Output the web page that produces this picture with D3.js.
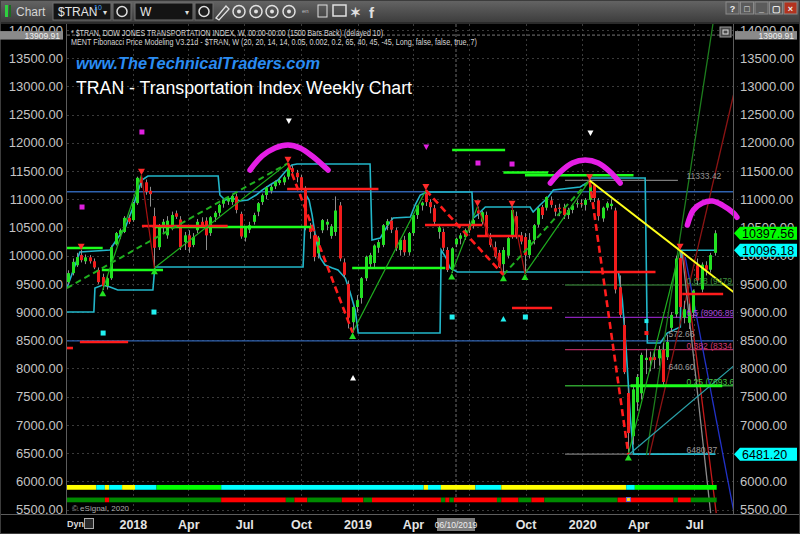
<!DOCTYPE html>
<html>
<head>
<meta charset="utf-8">
<script src="https://cdn.jsdelivr.net/npm/d3@7/dist/d3.min.js"></script>
<style>
html,body{margin:0;padding:0;background:#000;}
svg{display:block;font-family:"Liberation Sans",Arial,sans-serif;}
</style>
</head>
<body>
<svg id="chart" width="800" height="534"></svg>
<script>
// ---- Weekly $TRAN candles, first bar week of 2017-09-18 : [open, high, low, close]
const firstWeek = "2017-09-18";
const ohlc = [
[9530,9740,9480,9690],[9690,9950,9650,9890],[9830,10050,9800,9975],[10010,10100,9880,9920],
[9900,10020,9850,9970],[9970,10010,9860,9900],[9900,9950,9760,9790],[9745,9790,9500,9530],
[9620,9680,9390,9460],[9460,9650,9400,9600],[9600,10180,9570,10150],[10200,10420,10180,10400],
[10380,10480,10300,10450],[10420,10700,10400,10670],[10670,10720,10560,10600],[10630,10950,10600,10930],
[10930,11400,10900,11380],[11380,11430,11200,11290],[11300,11350,11080,11130],[11150,11220,10870,11090],
[10700,10850,9780,10140],[10150,10560,10100,10510],[10500,10650,10400,10600],[10360,10700,10300,10620],
[10490,10780,10450,10720],[10750,10800,10650,10690],[10640,10700,10100,10150],[10240,10420,10100,10360],
[10360,10450,10050,10150],[10190,10400,10150,10330],[10450,10650,10400,10600],[10600,10680,10500,10540],
[10620,10680,10100,10360],[10400,10700,10350,10680],[10680,10790,10600,10760],[10760,10920,10700,10900],
[10920,11000,10850,10990],[10960,11050,10900,11020],[10950,11080,10900,11060],[11050,11100,10750,10810],
[10740,10780,10300,10340],[10320,10520,10250,10490],[10460,10600,10400,10540],[10600,10760,10550,10720],
[10780,10950,10700,10930],[10950,11100,10900,11070],[11075,11230,11000,11210],[11150,11260,11100,11220],
[11230,11330,11180,11310],[11290,11370,11250,11340],[11300,11420,11250,11390],[11400,11640,11350,11560],
[11550,11600,11420,11480],[11470,11520,11300,11390],[11390,11430,11150,11200],[11200,11230,10450,10500],
[10500,10580,10300,10420],[10360,10420,9900,9975],[10040,10350,9950,10320],[10450,10650,10400,10630],
[10550,10650,10450,10600],[10350,10560,10300,10520],[10420,11050,10350,10800],[10890,10950,9900,9950],
[9880,9950,9600,9660],[9500,9560,8710,8900],[8820,9100,8636,9090],[9090,9300,9000,9210],
[9250,9620,9150,9600],[9600,10000,9550,9980],[9850,10050,9800,10010],[9870,10200,9800,10180],
[10140,10280,10050,10240],[10190,10560,10150,10540],[10540,10650,10450,10610],[10620,10680,10400,10460],
[10450,10500,10080,10130],[10100,10300,10000,10280],[10280,10350,10000,10060],[10060,10420,10000,10400],
[10400,10740,10350,10720],[10720,10900,10650,10890],[10890,10960,10800,10940],[11100,11160,10880,10950],
[10950,11000,10750,10860],[10840,10900,10550,10600],[10420,10550,10300,10500],[10420,10480,10080,10140],
[10100,10150,9710,9745],[9745,10150,9690,10130],[10200,10320,10150,10300],[10300,10400,10200,10360],
[10330,10480,10280,10450],[10540,10620,10400,10450],[10540,10650,10480,10630],[10800,10870,10650,10750],
[10600,10790,10550,10770],[10720,10780,10330,10360],[10300,10400,10150,10190],[10150,10250,9950,9980],
[10050,10100,9780,9800],[9850,10150,9660,10100],[10000,10330,9950,10310],[10360,10860,10300,10810],
[10700,10780,10300,10360],[10360,10420,10200,10250],[10330,10400,9680,10010],[10010,10400,9950,10280],
[10280,10560,10200,10540],[10550,10860,10500,10840],[10860,10900,10650,10720],[10850,11050,10800,11040],
[10980,11050,10850,10900],[10840,10900,10700,10780],[10850,10920,10700,10830],[10860,10920,10650,10720],
[10720,10850,10650,10810],[10810,10920,10750,10890],[10920,10980,10850,10930],[10930,11000,10850,10920],
[10900,11020,10800,10990],[10990,11333.42,10950,11250],[11250,11280,10950,11020],[10980,11020,10620,10700],
[10660,10870,10600,10850],[10850,10960,10800,10930],[10880,11000,10820,10920],[10800,10850,9330,9400],
[9440,9650,8900,8950],[8770,8900,7900,7935],[7565,7650,6480.37,6855],[6800,7700,6650,7630],
[7400,7900,7250,7850],[7560,8280,7450,8240],[8150,8350,7900,8190],[8200,8300,7950,8140],
[8200,8350,8000,8150],[8180,8400,8050,8330],[8330,8450,7700,7760],[8200,8600,8150,8470],
[8720,9000,8650,8950],[8960,10000,8900,9950],[9960,10100,9050,9090],[8900,9200,8800,9050],
[8810,9150,8700,8990],[8990,9400,8900,9380],[9830,9950,9480,9560],[9400,9880,9350,9840],
[9830,9900,9650,9750],[9750,10050,9700,10010],[10050,10450,10000,10397.56]
];

// Price scale ticks and calendar labels (the July 2019 label sits under the cursor date box)
const priceTicks = [14000,13500,13000,12500,12000,11500,11000,10500,10000,9500,9000,8500,8000,7500,7000,6500,6000,5500];
const timeTicks = [
  ["2018-01-01","2018"],["2018-04-01","Apr"],["2018-07-01","Jul"],["2018-10-01","Oct"],
  ["2019-01-01","2019"],["2019-04-01","Apr"],["2019-07-01",""],["2019-10-01","Oct"],
  ["2020-01-01","2020"],["2020-04-01","Apr"],["2020-07-01","Jul"]
];
const cursorDate = "2019-06-10";
const cursorPrice = 13909.91;

// Channel lines (week index, price)
const upperBand = [[-0.3,9426],[2.7,10064],[9.7,10099],[10.4,10188],[11.5,10312],[13.2,10489],[14.8,10809],[15.9,11075],[17.1,11340],[18.5,11411],[34.8,11411],[35.2,11075],[36.4,10986],[38,11021],[39.9,10968],[41.7,10986],[43.6,11075],[45,11163],[46.8,11252],[48.7,11340],[50.3,11482],[51.9,11607],[53.1,11624],[70.05,11624],[70.5,10277],[72.4,10312],[74.2,10543],[75.4,10667],[79.4,10684],[80.5,10897],[81.7,11075],[83.3,11128],[93.7,11128],[94,10667],[94.9,10720],[96.8,10862],[107.2,10862],[107.9,10773],[109.5,10897],[111.2,11021],[112.6,11163],[118.8,11216],[120.7,11305],[121.2,11376],[133.9,11376],[134.4,8451],[137.4,8451],[139,8628],[142.06,8734],[142.3,10096.18],[150.2,10096.18]];
const lowerBand = [[-0.3,9000],[5.95,9000],[6.2,9426],[8,9479],[9.7,9443],[11.5,9390],[19.65,9390],[20.1,9798],[54.5,9798],[55.2,11075],[55.9,10986],[56.6,10720],[57.5,10277],[58.5,9958],[59.6,9833],[61.3,9780],[62.6,9745],[64.3,9603],[65.4,9355],[66.6,9036],[67.3,8628],[86.3,8628],[86.55,10099],[87.7,9958],[88.6,9780],[90.3,9709],[127.7,9709],[128.6,9213],[129.5,8326],[130.5,7085],[131.2,6481.2],[150.2,6481.2]];

// Long-running horizontal reference levels
const baseLevels = [11133, 8490];

// Fibonacci retracement of the 2020 swing (high 11333.42, low 6480.37)
const fibRatios = ["", "0.618", "0.5", "0.382", "0.25", ""];
const fibValues = [11333.42, 9479.56, 8906.89, 8334.24, 7693.63, 6480.37];
const fibStart = 115.3;

// Support / resistance segments: [fromWeek, toWeek, price]
const supportLevels = [[-0.3,8,10135],[7.8,22,9745],[20.1,56.8,10507],[65.9,87.5,9780],[89.1,101.4,11872],[101,111.4,11474],[106,131.2,11424]];
const fibSupport = [[130.5,151.8,7693.63]];
const resistanceLevels = [[-0.8,1.1,8362],[2.7,13.9,8468],[17.1,37,10525],[50.8,72,11181],[82.8,96.1,10543],[94.9,104.9,10347],[103,112.3,9071],[121.1,136.3,9709],[142.5,152,9320]];

// Swing legs
const upLegs = [[[8,9390],[17,11430]],[[20,9780],[51,11640]],[[66,8636],[83,11160]],[[89,9690],[95,10870]],[[106,9680],[121,11333.42]],[[130,6480.37],[142,10100]]];
const upLegsMajor = [[[-0.3,9426],[51,11640]],[[101,9660],[121,11333.42]]];
const downLegsMajor = [[[51,11640],[66,8636]],[[83,11160],[101,9660]],[[121,11333.42],[130,6480.37]]];
const downLegs = [[[17,11430],[20,9780]],[[95,10870],[101,9660]],[[103,10860],[106,9680]]];
const swingHighs = [[3,10100],[17,11430],[51,11640],[83,11160],[95,10870],[103,10860],[121,11333.42],[142,10100]];
const swingLows = [[8,9390],[20,9780],[66,8636],[89,9690],[101,9660],[106,9680],[130,6480.37]];

// Projection rays of the 2020 structure
const trendLine = [[121,11333.42],[154.4,9355]];
const rayUpGreen = [[134.2,6465],[149.7,14142]];
const rayUpRed = [[134.9,6465],[154.4,12848]];
const rayDownGray = [[142.5,10046],[149.1,5436]];
const rayDownRed = [[142.8,10011],[150.4,5436]];
const rayDownBlue = [[143.2,9975],[154.4,5490]];
const rayTeal = [[130,6465],[154.4,8042]];

// Topping arcs
const arcs = [
  [[42.2,11518],[45,11766],[48,11908],[51,11961],[53.8,11908],[56.6,11766],[60.3,11518]],
  [[111.9,11287],[114.2,11482],[117,11642],[120,11695],[123,11642],[125.8,11482],[128.1,11287]],
  [[143.7,10543],[145.1,10809],[147.2,10933],[149.5,10968],[151.8,10897],[154.4,10755],[155.2,10680]]
];

// Signal markers (week index, price)
const magentaSquares = [[3.2,10862],[17.1,12192],[95.1,11642],[103,11624]];
const magentaDown = [[83.1,11926]];
const cyanSquares = [[8.1,8628],[19.9,9000],[89.1,8912],[106.1,8912]];
const cyanUp = [[101,8876]];
const whiteDown = [[51.2,12387],[121.2,12174]];
const whiteUp = [[66.1,7830]];
const cyanDots = [[134.2,8840]];
const redDots = [[134.2,8628]];
const measureNotes = [[139.3,8557,"572.66"],[139.3,7972,"640.60"]];

// Indicator strips: [fromWeek, toWeek, state]
const trendRow = [[0,7,"Y"],[7,9,"C"],[9,10,"Y"],[10,13,"C"],[13,16,"Y"],[16,21,"C"],[21,36,"G"],[36,83,"C"],[83,84,"Y"],[84,87,"C"],[87,95,"Y"],[95,101,"C"],[101,130,"Y"],[130,132,"C"],[132,151,"G"]];
const signalRow = [[0,9,"U"],[9,10,"D"],[10,36,"U"],[36,51,"D"],[51,53,"U"],[53,56,"D"],[56,64,"U"],[64,69,"D"],[69,71,"U"],[71,87,"D"],[87,88,"U"],[88,89,"D"],[89,90,"U"],[90,100,"D"],[100,101,"U"],[101,105,"D"],[105,108,"U"],[108,111,"D"],[111,128,"U"],[128,141,"D"],[141,142,"U"],[142,145,"D"],[145,151,"U"]];

// Last values shown on the price scale
const lastClose = 10397.56;
const upperLast = 10096.18;
const lowerLast = 6481.20;

// ---------------- drawing ----------------
const svg = d3.select("#chart");
const parse = d3.utcParse("%Y-%m-%d");
const DAY = 864e5;
const start = parse(firstWeek).getTime();
const weekDate = i => new Date(start + i * 7 * DAY);

const x = d3.scaleUtc().domain([parse("2017-09-16"), parse("2020-09-02")]).range([67, 733]);
const y = d3.scaleLinear().domain([5500, 14000]).range([509.5, 30]);
const xi = i => x(weekDate(i));
const PL = 67, PR = 733, PT = 24, PB = 514;

const defs = svg.append("defs");
defs.append("clipPath").attr("id", "plot").append("rect")
  .attr("x", PL).attr("y", PT).attr("width", PR - PL).attr("height", PB - PT);
const grad = defs.append("linearGradient").attr("id", "tb").attr("x1", 0).attr("x2", 0).attr("y1", 0).attr("y2", 1);
grad.append("stop").attr("offset", 0).attr("stop-color", "#656565");
grad.append("stop").attr("offset", 1).attr("stop-color", "#3b3b3b");

svg.append("rect").attr("width", 800).attr("height", 534).attr("fill", "#000");

// toolbar
const tb = svg.append("g");
tb.append("rect").attr("width", 800).attr("height", 23).attr("fill", "url(#tb)");
tb.append("rect").attr("x", 0).attr("y", 22).attr("width", 800).attr("height", 2).attr("fill", "#2a2a2a");
tb.append("rect").attr("x", 5).attr("y", 5).attr("width", 3).attr("height", 12).attr("fill", "#2fd040");
tb.append("rect").attr("x", 9).attr("y", 5).attr("width", 2).attr("height", 12).attr("fill", "#1c6b22");
tb.append("text").attr("x", 16).attr("y", 16).attr("font-size", 12).attr("fill", "#d4d4d4").text("Chart");
[[53, "$TRAN"], [135, "W"]].forEach(([bx, t]) => {
  tb.append("rect").attr("x", bx).attr("y", 3).attr("width", 58).attr("height", 17).attr("fill", "#141414").attr("stroke", "#707070");
  tb.append("text").attr("x", bx + 5).attr("y", 16).attr("font-size", 12).attr("fill", "#e6e6e6").text(t);
  tb.append("text").attr("x", bx + 50).attr("y", 15).attr("font-size", 8).attr("fill", "#ddd").text("\u25BE");
});
tb.append("text").attr("x", 94).attr("y", 10).attr("font-size", 7).attr("fill", "#3fa0ff").text("10");
[113, 195].forEach(bx => {
  tb.append("rect").attr("x", bx).attr("y", 3).attr("width", 18).attr("height", 17).attr("fill", "#1e1e1e").attr("stroke", "#707070");
  tb.append("circle").attr("cx", bx + 9).attr("cy", 11.5).attr("r", 5).attr("fill", "none").attr("stroke", "#e0e0e0").attr("stroke-width", 1.5);
});
tb.append("path").attr("d", "M216,18 L226,6 L229,9 L219,20 Z").attr("fill", "none").attr("stroke", "#e0e0e0").attr("stroke-width", 1.3);
[239, 256, 272, 289].forEach(cx => {
  tb.append("circle").attr("cx", cx).attr("cy", 11.5).attr("r", 6).attr("fill", "none").attr("stroke", "#e0e0e0").attr("stroke-width", 1.5);
  tb.append("circle").attr("cx", cx).attr("cy", 11.5).attr("r", 2).attr("fill", "#e0e0e0");
});
tb.append("text").attr("x", 302).attr("y", 13).attr("font-size", 6).attr("fill", "#bbb").text("en");
tb.append("rect").attr("x", 318).attr("y", 5).attr("width", 9).attr("height", 12).attr("fill", "none").attr("stroke", "#e0e0e0");
tb.append("rect").attr("x", 333).attr("y", 5).attr("width", 13).attr("height", 11).attr("fill", "none").attr("stroke", "#e0e0e0").attr("stroke-width", 1.5);
tb.append("text").attr("x", 350).attr("y", 17).attr("font-size", 13).attr("font-weight", "bold").attr("fill", "#e0e0e0").text("\u2736");
tb.append("text").attr("x", 369).attr("y", 18).attr("font-size", 15).attr("font-weight", "bold").attr("fill", "#e0e0e0").text("f");
["?", "\u25A1", "_", "\u25A2", "\u00D7"].forEach((t, k) => {
  const bx = 726 + k * 14.5;
  tb.append("rect").attr("x", bx).attr("y", 2).attr("width", 13).attr("height", 12)
    .attr("fill", k === 4 ? "#b2331f" : "#5b5b5b").attr("stroke", "#8a8a8a");
  tb.append("text").attr("x", bx + 6.5).attr("y", 12).attr("text-anchor", "middle").attr("font-size", 9)
    .attr("font-weight", "bold").attr("fill", "#eee").text(t);
});

// grid
const grid = svg.append("g");
grid.selectAll("line.h").data(priceTicks).join("line")
  .attr("x1", PL).attr("x2", 738).attr("y1", d => Math.round(y(d)) + 0.5).attr("y2", d => Math.round(y(d)) + 0.5)
  .attr("stroke", "#3a3a3a").attr("stroke-dasharray", "2,3");
grid.selectAll("line.v").data(timeTicks).join("line")
  .attr("x1", d => Math.round(x(parse(d[0]))) + 0.5).attr("x2", d => Math.round(x(parse(d[0]))) + 0.5)
  .attr("y1", PT).attr("y2", PB).attr("stroke", "#3a3a3a").attr("stroke-dasharray", "2,3");

// cursor lines
svg.append("line").attr("x1", PL).attr("x2", PR).attr("y1", y(cursorPrice)).attr("y2", y(cursorPrice))
  .attr("stroke", "#777").attr("stroke-dasharray", "3,2");
svg.append("line").attr("x1", x(parse(cursorDate))).attr("x2", x(parse(cursorDate))).attr("y1", PT).attr("y2", PB)
  .attr("stroke", "#6a6a6a").attr("stroke-dasharray", "3,2");

const plot = svg.append("g").attr("clip-path", "url(#plot)");
const line = d3.line().x(d => xi(d[0])).y(d => y(d[1]));

// long horizontal references
plot.selectAll("line.base").data(baseLevels).join("line")
  .attr("x1", PL).attr("x2", PR).attr("y1", d => y(d)).attr("y2", d => y(d))
  .attr("stroke", "#2f62b0").attr("stroke-width", 1.3);

// fibonacci levels
const fibColors = ["#7a7a7a", "#2d6a2d", "#8a22b8", "#b02a60", "#2e9e2e", "#7a7a7a"];
const fibText = ["#959595", "#3f8f3f", "#a848d8", "#d03a72", "#46c046", "#9a9a9a"];
const fibEnd = [141.5, 154.4, 154.4, 154.4, 154.4, 150.2];
fibValues.forEach((v, k) => {
  plot.append("line").attr("x1", xi(fibStart)).attr("x2", xi(fibEnd[k])).attr("y1", y(v)).attr("y2", y(v))
    .attr("stroke", fibColors[k]).attr("stroke-width", 1.3);
});

// channel
[upperBand, lowerBand].forEach(b => plot.append("path").attr("d", line(b))
  .attr("fill", "none").attr("stroke", "#22b6c9").attr("stroke-width", 1.6));

// rays
[[rayUpGreen, "#1d7d1d"], [rayUpRed, "#8c1414"], [rayDownGray, "#8c8c8c"], [rayDownRed, "#c41a1a"],
 [rayDownBlue, "#2232c8"], [rayTeal, "#2aa2aa"]].forEach(([r, c]) =>
  plot.append("path").attr("d", line(r)).attr("fill", "none").attr("stroke", c).attr("stroke-width", 1.3));

// candles
const cg = plot.append("g").selectAll("g").data(ohlc).join("g");
cg.append("line")
  .attr("x1", (d, i) => Math.round(xi(i)) + 0.5).attr("x2", (d, i) => Math.round(xi(i)) + 0.5)
  .attr("y1", d => y(d[1])).attr("y2", d => y(d[2])).attr("stroke", "#8e8e8e");
cg.append("rect")
  .attr("x", (d, i) => Math.round(xi(i)) - 1).attr("width", 3)
  .attr("y", d => y(Math.max(d[0], d[3])))
  .attr("height", d => Math.max(1, Math.abs(y(d[0]) - y(d[3]))))
  .attr("fill", d => d[3] >= d[0] ? "#22e022" : "#f21c1c");

// support / resistance
const seg = (arr, color, w) => plot.append("g").selectAll("line").data(arr).join("line")
  .attr("x1", d => xi(d[0])).attr("x2", d => xi(d[1])).attr("y1", d => y(d[2])).attr("y2", d => y(d[2]))
  .attr("stroke", color).attr("stroke-width", w);
seg(supportLevels, "#1cff1c", 2.6);
seg(fibSupport, "#1cff1c", 3);
seg(resistanceLevels, "#ff1c1c", 2.6);

// swing legs
upLegs.forEach(l => plot.append("path").attr("d", line(l)).attr("fill", "none").attr("stroke", "#1faf1f").attr("stroke-width", 1.2));
upLegsMajor.forEach(l => plot.append("path").attr("d", line(l)).attr("fill", "none").attr("stroke", "#1faf1f")
  .attr("stroke-width", 2).attr("stroke-dasharray", "6,4"));
downLegs.forEach(l => plot.append("path").attr("d", line(l)).attr("fill", "none").attr("stroke", "#a81212").attr("stroke-width", 1.2));
downLegsMajor.forEach(l => plot.append("path").attr("d", line(l)).attr("fill", "none").attr("stroke", "#ff1c1c")
  .attr("stroke-width", 2.6).attr("stroke-dasharray", "7,4"));

// down-sloping trend line
plot.append("path").attr("d", line(trendLine)).attr("fill", "none").attr("stroke", "#ffff1a").attr("stroke-width", 2);

// swing markers
const tri = (cx, cy, dir, s, fill) => {
  const h = s * 0.9;
  const p = dir > 0 ? [[cx, cy], [cx - s / 2, cy + h], [cx + s / 2, cy + h]] : [[cx, cy], [cx - s / 2, cy - h], [cx + s / 2, cy - h]];
  plot.append("path").attr("d", "M" + p.map(q => q.join(",")).join("L") + "Z").attr("fill", fill);
};
swingHighs.forEach(d => tri(xi(d[0]), y(d[1]), -1, 7, "#ff2a2a"));
swingLows.forEach(d => tri(xi(d[0]), y(d[1]), 1, 7, "#22e022"));
whiteDown.forEach(d => tri(xi(d[0]), y(d[1]) + 3, -1, 6, "#ffffff"));
whiteUp.forEach(d => tri(xi(d[0]), y(d[1]) - 3, 1, 6, "#ffffff"));
magentaDown.forEach(d => tri(xi(d[0]), y(d[1]) + 3, -1, 6, "#e020e0"));
cyanUp.forEach(d => tri(xi(d[0]), y(d[1]) - 3, 1, 6, "#22f0f0"));
const sq = (arr, c, s) => plot.append("g").selectAll("rect").data(arr).join("rect")
  .attr("x", d => xi(d[0]) - s / 2).attr("y", d => y(d[1]) - s / 2).attr("width", s).attr("height", s).attr("fill", c);
sq(magentaSquares, "#e020e0", 5);
sq(cyanSquares, "#22f0f0", 5);
sq(cyanDots, "#22f0f0", 4);
sq(redDots, "#ff2020", 4);

// fib labels + measurement notes
fibValues.forEach((v, k) => {
  plot.append("text").attr("x", xi(143.5)).attr("y", y(v) - 1).attr("font-size", 8.5).attr("fill", fibText[k])
    .text(fibRatios[k] ? `${fibRatios[k]} (${v.toFixed(2)})` : v.toFixed(2));
});
measureNotes.forEach(d => plot.append("text").attr("x", xi(d[0])).attr("y", y(d[1])).attr("font-size", 8.5)
  .attr("fill", "#9a9a9a").text(d[2]));

// indicator strips
const stateColor = {Y: "#ffff00", C: "#00ffff", G: "#00ff00", U: "#008a00", D: "#ff0000"};
const strip = (rows, top, bot) => plot.append("g").selectAll("rect").data(rows).join("rect")
  .attr("x", d => xi(d[0] - 0.5)).attr("width", d => xi(d[1] - 0.5) - xi(d[0] - 0.5))
  .attr("y", y(top)).attr("height", y(bot) - y(top)).attr("fill", d => stateColor[d[2]]);
strip(trendRow, 5935, 5850);
strip(signalRow, 5712, 5628);
plot.append("rect").attr("x", xi(130) - 2).attr("y", y(5712)).attr("width", 4).attr("height", 4)
  .attr("fill", "#ffd21f").attr("stroke", "#3b6cff").attr("stroke-width", 0.8);

// topping arcs
const arcLine = d3.line().x(d => xi(d[0])).y(d => y(d[1])).curve(d3.curveCatmullRom);
arcs.forEach(a => svg.append("path").attr("d", arcLine(a)).attr("fill", "none").attr("stroke", "#e41ee4")
  .attr("stroke-width", 5.5).attr("stroke-linecap", "round"));

// frame
svg.append("line").attr("x1", PL - 0.5).attr("x2", PL - 0.5).attr("y1", PT).attr("y2", PB).attr("stroke", "#5c5c5c");
svg.append("line").attr("x1", PR + 0.5).attr("x2", PR + 0.5).attr("y1", PT).attr("y2", PB).attr("stroke", "#5c5c5c");
svg.append("line").attr("x1", 0).attr("x2", 800).attr("y1", PB + 0.5).attr("y2", PB + 0.5).attr("stroke", "#5c5c5c");
svg.append("rect").attr("x", 0.5).attr("y", 0.5).attr("width", 799).attr("height", 533).attr("fill", "none").attr("stroke", "#3c3c3c");

// headers
svg.append("text").attr("x", 71).attr("y", 35.5).attr("font-size", 8.5).attr("fill", "#d6d6d6")
  .attr("textLength", 312).attr("lengthAdjust", "spacingAndGlyphs")
  .text("* $TRAN, DOW JONES TRANSPORTATION INDEX, W, 00:00-00:00 (1500 Bars Back) (delayed 10)");
svg.append("text").attr("x", 71).attr("y", 44.5).attr("font-size", 8.5).attr("fill", "#d6d6d6")
  .attr("textLength", 406).attr("lengthAdjust", "spacingAndGlyphs")
  .text("MENT Fibonacci Price Modeling V3.21d - $TRAN, W (20, 20, 14, 14, 0.05, 0.002, 0.2, 65, 40, 45, -45, Long, false, false, true, 7)");
svg.append("text").attr("x", 76).attr("y", 69).attr("font-size", 17).attr("font-style", "italic").attr("font-weight", "bold")
  .attr("fill", "#2a8cf2").attr("textLength", 244).attr("lengthAdjust", "spacingAndGlyphs").text("www.TheTechnicalTraders.com");
svg.append("text").attr("x", 76).attr("y", 94).attr("font-size", 18).attr("fill", "#ffffff")
  .attr("textLength", 336).attr("lengthAdjust", "spacingAndGlyphs").text("TRAN - Transportation Index Weekly Chart");

// price axes (the right-hand 6500 label is covered by the 6481.20 tag)
const fmt = d3.format(".2f");
const styleAxis = g => {
  g.select(".domain").remove();
  g.selectAll("line").remove();
  g.selectAll("text").attr("fill", "#c4c4c4").attr("font-size", 13).attr("font-family", "'Liberation Sans', Arial, sans-serif");
};
svg.append("g").attr("transform", "translate(740,0)")
  .call(d3.axisRight(y).tickValues(priceTicks.filter(v => Math.abs(y(v) - y(lowerLast)) > 8)).tickFormat(fmt).tickSize(0).tickPadding(0)).call(styleAxis);
svg.append("g").attr("transform", "translate(63,0)")
  .call(d3.axisLeft(y).tickValues(priceTicks).tickFormat(fmt).tickSize(0).tickPadding(0)).call(styleAxis);

// price tags
const tag = (v, fill, txt, x0, w) => {
  const c = y(v);
  svg.append("path").attr("d", `M${x0},${c} L${x0 + 6},${c - 6.5} L${x0 + w},${c - 6.5} L${x0 + w},${c + 6.5} L${x0 + 6},${c + 6.5} Z`).attr("fill", fill);
  svg.append("text").attr("x", x0 + 8).attr("y", c + 4.5).attr("font-size", 12.5).attr("fill", "#000").text(txt);
};
tag(lastClose, "#00ff00", fmt(lastClose), 734, 63);
tag(upperLast, "#00ffff", fmt(upperLast), 734, 63);
tag(lowerLast, "#00ffff", fmt(lowerLast), 734, 63);
[[0, 63], [735, 62]].forEach(([bx, w]) => {
  svg.append("rect").attr("x", bx).attr("y", y(cursorPrice) - 4).attr("width", w).attr("height", 8.5).attr("fill", "#8a8a8a");
  svg.append("text").attr("x", bx + w - 3).attr("y", y(cursorPrice) + 3.5).attr("text-anchor", "end")
    .attr("font-size", 8.5).attr("fill", "#f0f0f0").text(fmt(cursorPrice));
});
svg.append("rect").attr("x", 720).attr("y", 27).attr("width", 11).attr("height", 10).attr("fill", "#4a4a4a").attr("stroke", "#999");
svg.append("rect").attr("x", 723).attr("y", 30).attr("width", 5).attr("height", 4).attr("fill", "none").attr("stroke", "#ddd");

// time axis
const xAxis = svg.append("g").attr("transform", `translate(0,${PB + 2})`)
  .call(d3.axisBottom(x).tickValues(timeTicks.filter(d => d[1]).map(d => parse(d[0])))
    .tickFormat(d => timeTicks.find(t => parse(t[0]).getTime() === d.getTime())[1]).tickSize(0).tickPadding(0));
xAxis.select(".domain").remove();
xAxis.selectAll("text").attr("fill", "#e4e4e4").attr("font-size", 12.5).attr("font-weight", "bold")
  .attr("dy", "1em").attr("font-family", "'Liberation Sans', Arial, sans-serif");
const cx = x(parse(cursorDate));
svg.append("rect").attr("x", cx - 19).attr("y", 518).attr("width", 38).attr("height", 13).attr("fill", "#7d7d7d");
svg.append("text").attr("x", cx).attr("y", 527.5).attr("text-anchor", "middle").attr("font-size", 8.5).attr("fill", "#eee").text("06/10/2019");
svg.append("text").attr("x", 67).attr("y", 527).attr("font-size", 9).attr("font-weight", "bold").attr("fill", "#d8d8d8").text("Dyn");
svg.append("rect").attr("x", 84.5).attr("y", 518.5).attr("width", 9).attr("height", 10).attr("fill", "#2a2a2a").attr("stroke", "#aaa");
svg.append("text").attr("x", 72).attr("y", 511).attr("font-size", 8).attr("fill", "#a8a8a8").text("\u00A9 eSignal, 2020");
</script>
</body>
</html>
